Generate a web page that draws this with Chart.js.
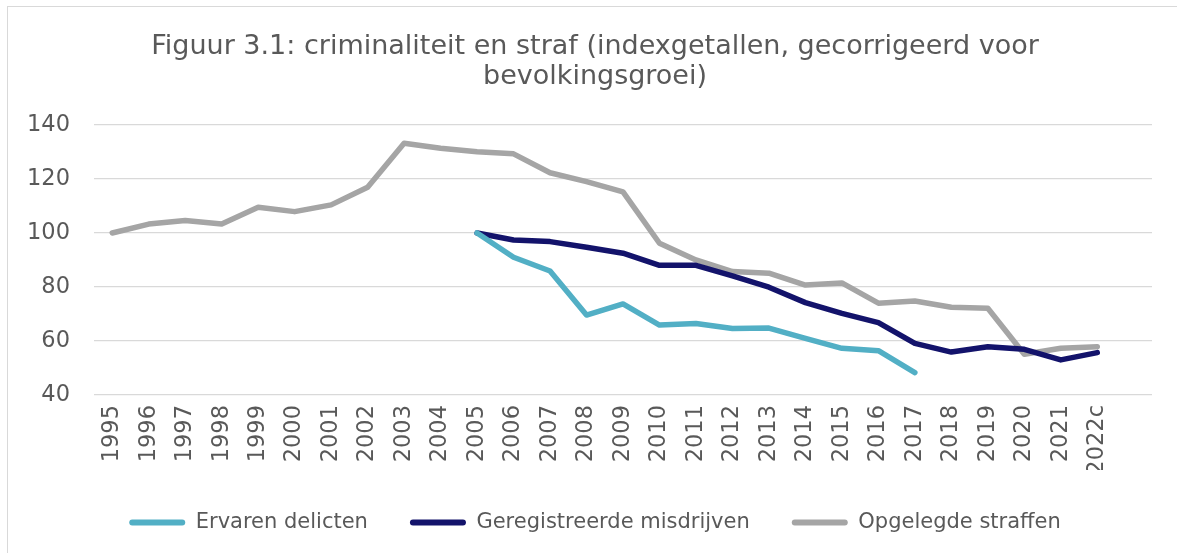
<!DOCTYPE html>
<html lang="nl">
<head>
    <meta charset="UTF-8">
    <title>Criminaliteit en straf</title>
    <style>
        body {
            margin: 0;
            background: #fff;
            overflow: hidden;
        }
        #frame {
            position: absolute;
            left: 7px;
            top: 6px;
            width: 1180px;
            height: 560px;
            border: 1px solid #d9d9d9;
        }
        #chart {
            display: block;
        }
    </style>
</head>
<body>
    <div id="frame">
        <canvas id="chart" width="1176" height="547"></canvas>
    </div>

    <script src="https://cdn.jsdelivr.net/npm/chart.js"></script>

    <script>
        // jaren (laatste categorie is leeg, zoals in de bron-grafiek)
        const jaren = ['1995', '1996', '1997', '1998', '1999', '2000', '2001', '2002', '2003', '2004',
            '2005', '2006', '2007', '2008', '2009', '2010', '2011', '2012', '2013', '2014',
            '2015', '2016', '2017', '2018', '2019', '2020', '2021', '2022c', ''];

        const ervarenDelicten = [null, null, null, null, null, null, null, null, null, null,
            100, 91, 85.9, 69.6, 73.7, 65.9, 66.5, 64.6, 64.8, 61, 57.3, 56.4, 48.3,
            null, null, null, null, null, null];

        const geregistreerdeMisdrijven = [null, null, null, null, null, null, null, null, null, null,
            100, 97.4, 96.8, 94.7, 92.5, 88, 88, 84.1, 79.9, 74.2, 70.2, 66.8, 59.1,
            55.9, 57.9, 56.9, 53, 55.7, null];

        const opgelegdeStraffen = [100, 103.3, 104.6, 103.3, 109.5, 107.9, 110.4, 116.9, 133.2, 131.4,
            130.1, 129.3, 122.3, 119, 115.2, 96.2, 90, 85.7, 85.1, 80.7, 81.5, 74, 74.8,
            72.5, 72.1, 55.1, 57.3, 57.9, null];

        const yTicks = [40, 60, 80, 100, 120, 140];

        const tekstKleur = '#595959';
        const font = 'DejaVu Sans';

        function lijn(label, data, kleur) {
            return {
                label: label,
                data: data,
                borderColor: kleur,
                backgroundColor: kleur,
                borderWidth: 5.5,
                pointRadius: 0,
                tension: 0,
                borderCapStyle: 'round',
                borderJoinStyle: 'round',
                spanGaps: false
            };
        }

        // titel en legenda staan in het origineel iets rechts van het midden
        const verschuif = {
            id: 'verschuif',
            afterLayout: function(chart) {
                [chart.titleBlock, chart.legend].forEach(function(blok) {
                    blok.left += 15;
                    blok.right += 15;
                });
            }
        };

        let ctx = document.getElementById('chart').getContext('2d');
        let grafiek = new Chart(ctx, {
            type: 'line',
            data: {
                labels: jaren,
                datasets: [
                    lijn('Ervaren delicten', ervarenDelicten, '#52afc5'),
                    lijn('Geregistreerde misdrijven', geregistreerdeMisdrijven, '#13136b'),
                    lijn('Opgelegde straffen', opgelegdeStraffen, '#a5a5a5')
                ]
            },
            plugins: [verschuif],
            options: {
                responsive: false,
                animation: false,
                layout: {
                    padding: { left: 0, right: 32, top: 0, bottom: 11 }
                },
                plugins: {
                    title: {
                        display: true,
                        text: ['Figuur 3.1: criminaliteit en straf (indexgetallen, gecorrigeerd voor', 'bevolkingsgroei)'],
                        color: tekstKleur,
                        font: { family: font, size: 27, weight: 'normal', lineHeight: 1.11 },
                        padding: { top: 25, bottom: 33 }
                    },
                    legend: {
                        position: 'bottom',
                        labels: {
                            color: tekstKleur,
                            font: { family: font, size: 21 },
                            boxWidth: 56,
                            boxHeight: 6,
                            useBorderRadius: true,
                            borderRadius: 3,
                            padding: 42,
                            generateLabels: function(chart) {
                                let items = Chart.defaults.plugins.legend.labels.generateLabels(chart);
                                items.forEach(function(item) { item.lineWidth = 0; });
                                return items;
                            }
                        }
                    },
                    tooltip: { enabled: false }
                },
                scales: {
                    x: {
                        offset: true,
                        grid: { display: false },
                        border: { display: false },
                        afterFit: function(axis) { axis.height = 75; },
                        ticks: {
                            color: tekstKleur,
                            font: { family: font, size: 22.5 },
                            minRotation: 90,
                            maxRotation: 90,
                            autoSkip: false,
                            padding: 2
                        }
                    },
                    y: {
                        min: 40,
                        max: 140,
                        afterBuildTicks: function(axis) {
                            axis.ticks = yTicks.map(function(v) { return { value: v }; });
                        },
                        afterFit: function(axis) { axis.width = 86; },
                        grid: { color: '#d9d9d9', lineWidth: 1.3, drawTicks: false },
                        border: { display: false },
                        ticks: {
                            color: tekstKleur,
                            font: { family: font, size: 22.5 },
                            padding: 24
                        }
                    }
                }
            }
        });
    </script>
</body>
</html>
